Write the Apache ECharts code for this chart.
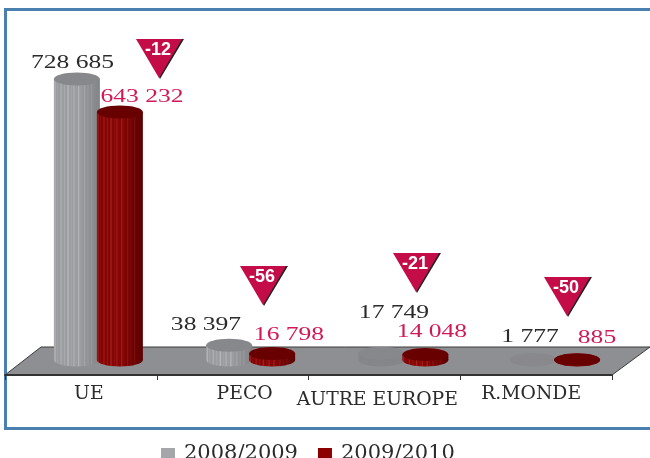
<!DOCTYPE html>
<html><head><meta charset="utf-8">
<style>html,body{margin:0;padding:0;background:#fff}#c{width:650px;height:458px}</style>
<script src="https://cdn.jsdelivr.net/npm/echarts@6/dist/echarts.min.js"></script>
</head><body><div id="c"></div>
<script>
const categories = ['UE', 'PECO', 'AUTRE EUROPE', 'R.MONDE'];
const seriesNames = ['2008/2009', '2009/2010'];
const values2008 = [728685, 38397, 17749, 1777];
const values2010 = [643232, 16798, 14048, 885];
const changes = [-12, -56, -21, -50];

// layout only
const catOffsets = [[-4, 39], [-3.5, 39.5], [-3, 41], [-3, 41]];
const label08Pos = [[72.5, 63], [206, 325], [394, 313], [530, 337]];
const label10Pos = [[142, 97], [289, 335], [432, 332], [597, 338]];
const badgeTops = [39, 266, 253, 277];
const badgeCenters = [159.5, 263.5, 416.5, 567.5];
const labelPad = [[0, 0, 0, 16], [0, 0, 0, 24], [0, 14, 0, 0], [0, 10, 0, 0]];
const labelDrop = [0, 0, 3, 0];
const fmt = v => String(v).replace(/\B(?=(\d{3})+$)/g, ' ');

function ribbed(dark, light, edge) {
  const unit = [.1, .9, .1, .3, .1, .1, .7, .2, .1, .5, .1, .1, 1, .2, .1, .4, .1, .8, .1, .2];
  const pattern = unit.concat(unit);
  const stops = [];
  const n = pattern.length;
  const mix = (a, b, t) => a.map((c, i) => Math.round(c + (b[i] - c) * t));
  pattern.forEach((p, i) => {
    const pos = i / (n - 1);
    const fade = pos > .55 ? (pos - .55) / .45 : 0;
    const c = mix(mix(dark, light, p), edge, fade);
    stops.push({ offset: pos, color: 'rgb(' + c.join(',') + ')' });
  });
  return { type: 'linear', x: 0, y: 0, x2: 1, y2: 0, colorStops: stops };
}

function cylinderSeries(name, data, which, legendColor, bodyFill, topFill, labelPos, labelColor) {
  return {
    type: 'custom', name, data, coordinateSystem: 'cartesian2d', silent: true,
    encode: { x: 0, y: 1 }, itemStyle: { color: legendColor },
    renderItem(params, api) {
      const i = api.value(0), v = api.value(1);
      const base = api.coord([i, 0]), top = api.coord([i, v]);
      const lift = 15, rx = 23, ry = 6.5;
      const cx = base[0] + catOffsets[i][which];
      const by = base[1] - lift, ty = top[1] - lift;
      const lp = labelPos[i];
      const faded = which === 0 && i >= 2;
      const opacity = which === 0 && i === 3 ? 0.5 : 1;
      const fill = faded ? '#858689' : bodyFill;
      return {
        type: 'group', children: [
          { type: 'ellipse', shape: { cx, cy: by, rx, ry }, style: { fill, opacity } },
          { type: 'rect', shape: { x: cx - rx, y: ty, width: 2 * rx, height: by - ty }, style: { fill, opacity } },
          { type: 'ellipse', shape: { cx, cy: ty, rx, ry }, style: { fill: topFill, opacity } },
          { type: 'text', x: lp[0], y: lp[1], scaleX: 1.42, style: { text: fmt(v), font: '18px "Liberation Serif"', fill: labelColor, align: 'center', verticalAlign: 'middle' } }
        ]
      };
    }
  };
}

const badgeSeries = {
  type: 'custom', name: 'badges', data: changes.map((c, i) => [i, c]), silent: true,
  coordinateSystem: 'cartesian2d', encode: { x: 0 },
  renderItem(params, api) {
    const i = api.value(0), cx = badgeCenters[i], t = badgeTops[i], w = 23.5, h = 39;
    return {
      type: 'group', children: [
        { type: 'polygon', shape: { points: [[cx - w + 4, t], [cx + w + 1, t], [cx + 0.5, t + h + 1]] }, style: { fill: '#222' } },
        { type: 'polygon', shape: { points: [[cx - w, t], [cx + w - 1, t], [cx - 0.5, t + h]] }, style: { fill: '#c40c48' } },
        { type: 'text', x: cx - 1.5, y: t + 11.5, style: { text: String(api.value(1)), font: 'bold 18px "Liberation Sans"', fill: '#fff', align: 'center', verticalAlign: 'middle' } }
      ]
    };
  }
};

const chart = echarts.init(document.getElementById('c'), null, { renderer: 'canvas' });
chart.setOption({
  animation: false,
  backgroundColor: '#fff',
  grid: { left: 5, right: 38, top: 66.5, bottom: 83, containLabel: false },
  xAxis: {
    type: 'category', data: categories, boundaryGap: true,
    axisLine: { lineStyle: { color: '#333', width: 2 } },
    axisTick: { show: true, alignWithLabel: false, length: 5, lineStyle: { color: '#333' } },
    axisLabel: {
      margin: 10, interval: 0, fontFamily: 'DejaVu Serif', fontSize: 18.8, color: '#2b2b2b',
      formatter: (v) => '{c' + categories.indexOf(v) + '|' + v + '}',
      rich: Object.fromEntries(labelPad.map((p, i) => ['c' + i, {
        padding: [labelDrop[i] * 2, p[1], 0, p[3]], fontFamily: 'DejaVu Serif', fontSize: 18.8, color: '#2b2b2b'
      }]))
    }
  },
  yAxis: { type: 'value', min: 0, max: 800000, show: false, splitLine: { show: false } },
  legend: {
    data: seriesNames, left: 156, top: 438, itemWidth: 14, itemHeight: 11, itemGap: 20, icon: 'rect',
    textStyle: { fontFamily: 'DejaVu Serif', fontSize: 21, color: '#2b2b2b', padding: [0, 0, 0, 4] }
  },
  graphic: [
    { type: 'rect', z: -10, silent: true, shape: { x: 5.5, y: 9.5, width: 660, height: 419 }, style: { fill: '#fff', stroke: '#4a80b0', lineWidth: 3 } },
    { type: 'polygon', z: -5, silent: true, shape: { points: [[5, 375], [41, 347], [650, 347], [612, 375]] }, style: { fill: '#8e8f93', stroke: '#3a3a3a', lineWidth: 1 } }
  ],
  series: [
    cylinderSeries(seriesNames[0], values2008.map((v, i) => [i, v]), 0, '#a5a6aa', ribbed([150, 151, 155], [185, 186, 190], [130, 131, 135]), '#87888c', label08Pos, '#2b2b2b'),
    cylinderSeries(seriesNames[1], values2010.map((v, i) => [i, v]), 1, '#8b0000', ribbed([128, 0, 0], [165, 35, 35], [90, 0, 0]), '#680000', label10Pos, '#d01a55'),
    badgeSeries
  ]
});
</script></body></html>
